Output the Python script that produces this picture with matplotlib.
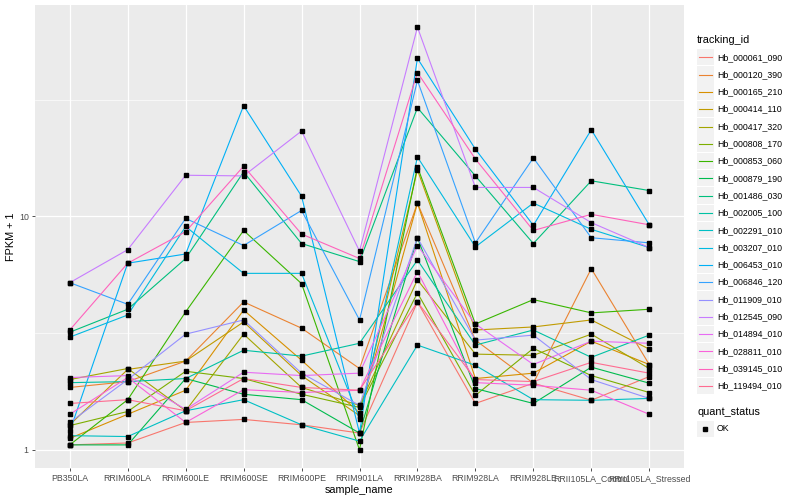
import matplotlib.pyplot as plt
from matplotlib.lines import Line2D
from matplotlib.patches import Rectangle
from matplotlib.ticker import FixedLocator, NullFormatter

plt.rcParams['font.family'] = ['Liberation Sans', 'DejaVu Sans']

# amostras no eixo x
sample_names = ['PB350LA', 'RRIM600LA', 'RRIM600LE', 'RRIM600SE', 'RRIM600PE', 'RRIM901LA',
                'RRIM928BA', 'RRIM928LA', 'RRIM928LE', 'RRII105LA_Control', 'RRII105LA_Stressed']

tracking_ids = ['Hb_000061_090', 'Hb_000120_390', 'Hb_000165_210', 'Hb_000414_110', 'Hb_000417_320',
                'Hb_000808_170', 'Hb_000853_060', 'Hb_000879_190', 'Hb_001486_030', 'Hb_002005_100',
                'Hb_002291_010', 'Hb_003207_010', 'Hb_006453_010', 'Hb_006846_120', 'Hb_011909_010',
                'Hb_012545_090', 'Hb_014894_010', 'Hb_028811_010', 'Hb_039145_010', 'Hb_119494_010']

# FPKM + 1, na ordem de sample_names
hb_000061_090 = [1.05, 1.07, 1.31, 1.35, 1.28, 1.18, 4.3, 1.58, 1.93, 1.63, 2.06]
hb_000120_390 = [1.85, 1.96, 2.40, 4.3, 3.32, 2.23, 11.4, 2.95, 1.93, 5.97, 2.32]
hb_000165_210 = [1.12, 1.42, 1.80, 3.97, 2.42, 1.44, 11.4, 2.02, 2.13, 2.92, 2.32]
hb_000414_110 = [1.28, 2.21, 2.40, 3.53, 2.08, 1.40, 15.8, 3.26, 3.36, 3.6, 2.70]
hb_000417_320 = [2.00, 2.23, 1.47, 3.13, 1.85, 1.55, 5.35, 2.57, 2.54, 3.13, 2.23]
hb_000808_170 = [1.27, 1.46, 2.17, 2.02, 1.73, 1.52, 4.7, 1.71, 2.72, 2.08, 1.76]
hb_000853_060 = [1.05, 1.64, 3.9, 8.7, 5.15, 1.0, 16.3, 3.46, 4.4, 3.86, 4.0]
hb_000879_190 = [1.05, 1.05, 2.02, 1.73, 1.64, 1.18, 8.1, 1.83, 1.58, 2.26, 1.93]
hb_001486_030 = [3.19, 4.0, 6.6, 15.5, 7.65, 6.4, 29.2, 14.9, 7.65, 14.2, 12.9]
hb_002005_100 = [1.94, 1.96, 2.02, 2.67, 2.52, 2.86, 6.5, 2.81, 3.26, 2.49, 3.10]
hb_002291_010 = [1.15, 1.14, 1.47, 1.64, 1.28, 1.09, 2.81, 2.30, 1.64, 1.63, 1.66]
hb_003207_010 = [3.04, 3.78, 9.05, 5.7, 5.7, 1.36, 17.96, 7.4, 11.4, 8.8, 7.35]
hb_006453_010 = [1.20, 6.3, 6.9, 29.8, 12.2, 1.18, 47.5, 19.4, 9.15, 23.5, 9.2]
hb_006846_120 = [5.2, 4.2, 9.8, 7.5, 10.6, 3.6, 38.2, 7.7, 17.8, 8.1, 7.7]
hb_011909_010 = [1.31, 2.00, 3.13, 3.6, 2.13, 1.55, 8.1, 2.95, 3.10, 2.00, 1.66]
hb_012545_090 = [5.2, 7.2, 15.0, 14.9, 23.2, 7.1, 64.6, 13.3, 13.3, 9.4, 7.35]
hb_014894_010 = [2.04, 2.08, 1.49, 2.15, 2.08, 2.13, 7.5, 3.46, 2.32, 2.92, 2.86]
hb_028811_010 = [1.42, 2.04, 1.31, 1.81, 1.76, 1.80, 5.8, 1.94, 1.89, 1.80, 1.42]
hb_039145_010 = [3.26, 6.3, 8.6, 16.4, 8.4, 6.6, 41.3, 17.6, 8.7, 10.2, 9.2]
hb_119494_010 = [1.58, 1.64, 1.47, 2.02, 1.85, 1.80, 4.3, 2.00, 1.96, 2.37, 2.13]

series = [hb_000061_090, hb_000120_390, hb_000165_210, hb_000414_110, hb_000417_320,
          hb_000808_170, hb_000853_060, hb_000879_190, hb_001486_030, hb_002005_100,
          hb_002291_010, hb_003207_010, hb_006453_010, hb_006846_120, hb_011909_010,
          hb_012545_090, hb_014894_010, hb_028811_010, hb_039145_010, hb_119494_010]

# paleta padrao do ggplot (hue_pal) para 20 niveis
cores = ['#F8766D', '#EA8331', '#D89000', '#C09B00', '#A3A500', '#7CAE00', '#39B600', '#00BB4E',
         '#00BF7D', '#00C1A3', '#00BFC4', '#00BAE0', '#00B0F6', '#35A2FF', '#9590FF', '#C77CFF',
         '#E76BF3', '#FA62DB', '#FF62BC', '#FF6C91']

W, H = 800, 500
fig = plt.figure(figsize=(8, 5), dpi=100)
ax = fig.add_axes([35 / W, 1 - 468 / H, (684 - 35) / W, (468 - 5) / H])
ax.set_facecolor('#EBEBEB')
for s in ax.spines.values():
    s.set_visible(False)

x = list(range(len(sample_names)))
for valores, cor in zip(series, cores):
    ax.plot(x, valores, color=cor, linewidth=0.8, zorder=3)
for valores in series:
    ax.plot(x, valores, linestyle='none', marker='s', markersize=2.2, color='black', zorder=4)

ax.set_yscale('log')
ax.set_ylim(0.836, 80.4)
ax.set_xlim(-0.6, len(sample_names) - 0.4)
ax.set_yticks([1, 10])
ax.set_yticklabels(['1', '10'])
ax.yaxis.set_minor_locator(FixedLocator([10 ** 0.5, 10 ** 1.5]))
ax.yaxis.set_minor_formatter(NullFormatter())
ax.set_xticks(x)
ax.set_xticklabels(sample_names)
ax.tick_params(axis='both', which='major', labelsize=6.3, labelcolor='#4D4D4D',
               color='#333333', length=2.5, width=0.6, pad=2)
ax.tick_params(axis='y', which='minor', length=0)
ax.grid(True, which='major', color='white', linewidth=0.9, zorder=1)
ax.grid(True, which='minor', axis='y', color='white', linewidth=0.45, zorder=1)
ax.set_axisbelow(True)
ax.set_xlabel('sample_name', fontsize=7.8, labelpad=1)
ax.set_ylabel('FPKM + 1', fontsize=7.8, labelpad=2)


# legenda desenhada manualmente (coordenadas em pixels)
def fx(px):
    return px / W


def fy(py):
    return 1 - py / H


fig.text(fx(697), fy(40), 'tracking_id', fontsize=7.8, va='center', ha='left')
passo = 17.3
for i, (nome, cor) in enumerate(zip(tracking_ids, cores)):
    yc = 57.3 + i * passo
    fig.add_artist(Rectangle((fx(697), fy(yc + 8)), 16.5 / W, 16.5 / H,
                             transform=fig.transFigure, facecolor='#F2F2F2', edgecolor='none'))
    fig.add_artist(Line2D([fx(698.5), fx(712)], [fy(yc), fy(yc)], transform=fig.transFigure,
                          color=cor, linewidth=0.8))
    fig.text(fx(717), fy(yc), nome, fontsize=6.3, va='center', ha='left')

fig.text(fx(697), fy(412), 'quant_status', fontsize=7.8, va='center', ha='left')
fig.add_artist(Rectangle((fx(697), fy(437)), 16.5 / W, 16.5 / H,
                         transform=fig.transFigure, facecolor='#F2F2F2', edgecolor='none'))
fig.add_artist(Line2D([fx(705.2)], [fy(428.7)], transform=fig.transFigure, linestyle='none',
                      marker='s', markersize=2.2, color='black'))
fig.text(fx(717), fy(428.7), 'OK', fontsize=6.3, va='center', ha='left')

fig.savefig('out.png', dpi=100)
